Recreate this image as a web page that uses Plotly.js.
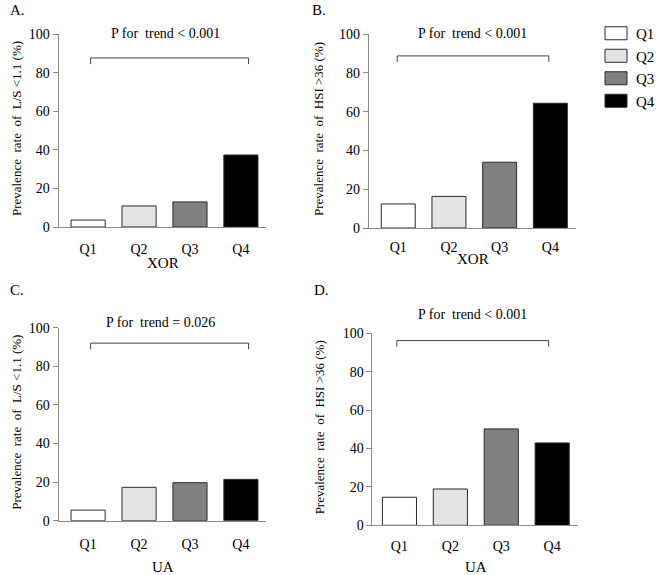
<!DOCTYPE html>
<html>
<head>
<meta charset="utf-8">
<script src="https://cdn.plot.ly/plotly-3.0.1.min.js"></script>
<style>html,body{margin:0;padding:0;background:#fff;}</style>
</head>
<body>
<div id="chart" style="width:660px;height:575px;"></div>
<script>
// ---- data ----
const categories = ['Q1', 'Q2', 'Q3', 'Q4'];
const xorLS  = [3.6, 10.9, 13.0, 37.3];   // A
const xorHSI = [12.4, 16.3, 33.9, 64.3];  // B
const uaLS   = [5.5, 17.3, 19.7, 21.4];   // C
const uaHSI  = [14.6, 18.9, 50.2, 42.9];  // D
const panelLabels = ['A.', 'B.', 'C.', 'D.'];
const pTexts = ['P for  trend < 0.001', 'P for  trend < 0.001', 'P for  trend = 0.026', 'P for  trend < 0.001'];
const yTitles = ['Prevalence  rate  of  L/S <1.1 (%)', 'Prevalence  rate  of  HSI >36 (%)',
                 'Prevalence  rate  of  L/S <1.1 (%)', 'Prevalence  rate  of  HSI >36 (%)'];
const xTitles = ['XOR', 'XOR', 'UA', 'UA'];
const bracketY = [87.6, 88.7, 92.0, 96.2];
const bracketX0 = [0.05, -0.02, 0.05, -0.05];
const bracketX1 = [3.15, 2.97, 3.15, 2.93];

// ---- styling ----
const W = 660, H = 575;
const FONT = '"Liberation Serif", "Times New Roman", Times, serif';
const colors = ['#ffffff', '#e4e4e4', '#808080', '#000000'];
const axisGray = '#8a8a8a';
// panel pixel boxes: [left, right, top(y=100), bottom(y=0)]
const boxes = [
  [60, 273, 34, 227],
  [378, 590, 34, 228],
  [60, 273, 327.7, 520.7],
  [381.7, 592, 333.3, 525.3]
];
const xRanges = [[-0.58, 3.5], [-0.58, 3.5], [-0.58, 3.5], [-0.53, 3.5]];
const xTickLen = [9, 6, 10, 8];
const pTitlePos = [[170, 33], [484, 33], [164, 322], [484, 315]];
const yTitleX = [17, 327, 17, 327];
const xTitleY = [263, 259, 567, 567];
const labelPos = [[8, 10], [318, 10], [8, 290], [320, 290]];

const series = [xorLS, xorHSI, uaLS, uaHSI];
const traces = [];
const layout = {
  width: W, height: H,
  margin: {l: 0, r: 0, t: 0, b: 0},
  paper_bgcolor: '#fff', plot_bgcolor: '#fff',
  font: {family: FONT, size: 14, color: '#000'},
  barmode: 'overlay',
  showlegend: true,
  legend: {
    x: 611 / W, y: 1 - 17 / H, xanchor: 'left', yanchor: 'top',
    font: {family: FONT, size: 15, color: '#000'},
    bgcolor: 'rgba(0,0,0,0)', tracegroupgap: 0, itemwidth: 30
  },
  annotations: [],
  shapes: []
};

series.forEach((vals, p) => {
  const n = p === 0 ? '' : String(p + 1);
  const xa = 'x' + n, ya = 'y' + n;
  categories.forEach((c, i) => {
    traces.push({
      type: 'bar', x: [c], y: [vals[i]], xaxis: xa, yaxis: ya,
      name: c, legendgroup: c, showlegend: p === 1,
      width: 0.67,
      marker: {color: colors[i], line: {color: '#2a2a2a', width: 1}},
      hoverinfo: 'x+y'
    });
  });
  const b = boxes[p];
  layout['xaxis' + n] = {
    domain: [b[0] / W, b[1] / W], anchor: ya,
    type: 'category', categoryorder: 'array', categoryarray: categories,
    range: xRanges[p],
    showline: true, linecolor: axisGray, linewidth: 1,
    ticks: 'outside', ticklen: xTickLen[p], tickcolor: 'rgba(0,0,0,0)',
    tickfont: {family: FONT, size: 14, color: '#000'},
    showgrid: false, zeroline: false, fixedrange: true
  };
  layout['yaxis' + n] = {
    domain: [1 - b[3] / H, 1 - b[2] / H], anchor: xa,
    range: [0, 100], dtick: 20, tick0: 0,
    showline: true, linecolor: axisGray, linewidth: 1,
    ticks: 'outside', ticklen: 5, tickcolor: axisGray,
    tickfont: {family: FONT, size: 14, color: '#000'},
    showgrid: false, zeroline: false, fixedrange: true
  };
  // bracket
  const y0 = bracketY[p], drop = 3.2;
  layout.shapes.push({
    type: 'path', xref: xa, yref: ya,
    path: `M ${bracketX0[p]} ${y0 - drop} L ${bracketX0[p]} ${y0} L ${bracketX1[p]} ${y0} L ${bracketX1[p]} ${y0 - drop}`,
    line: {color: '#444', width: 1}
  });
  // P for trend
  layout.annotations.push({
    text: pTexts[p], xref: 'paper', yref: 'paper',
    x: pTitlePos[p][0] / W, y: 1 - pTitlePos[p][1] / H,
    xanchor: 'center', yanchor: 'middle', showarrow: false,
    font: {family: FONT, size: 14, color: '#000'}
  });
  // y title
  layout.annotations.push({
    text: yTitles[p], xref: 'paper', yref: 'paper', textangle: -90,
    x: yTitleX[p] / W, y: 1 - ((b[2] + b[3]) / 2 - 2) / H,
    xanchor: 'center', yanchor: 'middle', showarrow: false,
    font: {family: FONT, size: 13, color: '#000'}
  });
  // x title
  layout.annotations.push({
    text: xTitles[p], xref: 'paper', yref: 'paper',
    x: ((b[0] + b[1]) / 2 + 1) / W, y: 1 - xTitleY[p] / H,
    xanchor: 'center', yanchor: 'middle', showarrow: false,
    font: {family: FONT, size: 15, color: '#000'}
  });
  // panel label
  layout.annotations.push({
    text: panelLabels[p], xref: 'paper', yref: 'paper',
    x: labelPos[p][0] / W, y: 1 - labelPos[p][1] / H,
    xanchor: 'left', yanchor: 'middle', showarrow: false,
    font: {family: FONT, size: 15, color: '#000'}
  });
});

Plotly.newPlot('chart', traces, layout, {displayModeBar: false}).then(gd => {
  // enlarge legend swatches to the wide rectangles of the original
  gd.querySelectorAll('.legend .legendpoints path').forEach(el => {
    el.setAttribute('d', 'M-11,-6.5H11V6.5H-11Z');
  });
});
</script>
</body>
</html>
